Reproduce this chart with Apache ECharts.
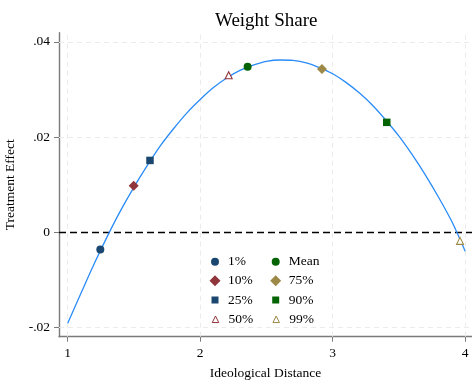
<!DOCTYPE html>
<html>
<head>
<meta charset="utf-8">
<script src="https://cdn.jsdelivr.net/npm/echarts@6/dist/echarts.min.js"></script>
<style>html,body{margin:0;padding:0;background:#fff}#c{width:472px;height:382px}</style>
</head>
<body>
<div id="c"></div>
<script>
// ---- data ----
const titleText = 'Weight Share';
const xName = 'Ideological Distance';
const yName = 'Treatment Effect';
const xTicks = [1, 2, 3, 4];
const xTickLabels = ['1', '2', '3', '4'];
const yTicks = [-0.02, 0, 0.02, 0.04];
const yTickLabels = ['-.02', '0', '.02', '.04'];
// fitted curve
const curveX = [1.0, 1.1, 1.2, 1.3, 1.4, 1.5, 1.6, 1.7, 1.8, 1.9, 2.0, 2.1, 2.2, 2.3, 2.4, 2.5,
                2.6, 2.7, 2.8, 2.9, 3.0, 3.1, 3.2, 3.3, 3.4, 3.5, 3.6, 3.7, 3.8, 3.9, 4.0];
const curveY = [-0.0191, -0.0128, -0.0066, -0.0008, 0.0046, 0.0095, 0.0140, 0.0182, 0.0218, 0.0251,
                0.0279, 0.0304, 0.0324, 0.0340, 0.0351, 0.0359, 0.0362, 0.0361, 0.0356, 0.0346,
                0.0333, 0.0315, 0.0293, 0.0267, 0.0236, 0.0202, 0.0163, 0.0120, 0.0073, 0.0022, -0.0040];
// percentile markers
const markerNames = ['1%', '10%', '25%', '50%', 'Mean', '75%', '90%', '99%'];
const markerX = [1.246, 1.498, 1.621, 2.215, 2.358, 2.919, 3.408, 3.961];
const markerY = [-0.0036, 0.0098, 0.0151, 0.0330, 0.0348, 0.0343, 0.0231, -0.0018];
const legendCol1 = ['1%', '10%', '25%', '50%'];
const legendCol2 = ['Mean', '75%', '90%', '99%'];

// ---- styles ----
const FONT = 'Liberation Serif';
const navy = '#1a476f', maroon = '#90353b', green = '#046404', khaki = '#9c8847';
const markerStyles = {
  '1%':   {symbol: 'circle',   size: 8,   legendSize: 8,  color: navy,   hollow: false},
  '10%':  {symbol: 'diamond',  size: 10,  legendSize: 11, color: maroon, hollow: false},
  '25%':  {symbol: 'rect',     size: 7.5, legendSize: 7,  color: navy,   hollow: false},
  '50%':  {symbol: 'triangle', size: 7,   legendSize: 6.5,color: maroon, hollow: true},
  'Mean': {symbol: 'circle',   size: 8,   legendSize: 8,  color: green,  hollow: false},
  '75%':  {symbol: 'diamond',  size: 10,  legendSize: 11, color: khaki,  hollow: false},
  '90%':  {symbol: 'rect',     size: 7.5, legendSize: 7,  color: green,  hollow: false},
  '99%':  {symbol: 'triangle', size: 7,   legendSize: 6.5,color: khaki,  hollow: true}
};

const chart = echarts.init(document.getElementById('c'), null, {renderer: 'canvas'});

const gridLineData = [];
xTicks.forEach(v => gridLineData.push({xAxis: v}));
yTicks.forEach(v => { if (v !== 0) gridLineData.push({yAxis: v}); });

const series = [];
series.push({
  name: 'curve',
  type: 'line',
  data: curveX.map((x, i) => [x, curveY[i]]),
  smooth: 0.3,
  showSymbol: false,
  symbol: 'none',
  lineStyle: {color: '#2a8cf7', width: 1.3},
  z: 3,
  silent: true,
  markLine: {
    silent: true, symbol: 'none', z: 1,
    label: {show: false},
    lineStyle: {color: '#ebebeb', type: [5, 4], width: 1},
    data: gridLineData
  }
});
series.push({
  name: 'zero',
  type: 'line',
  data: [],
  markLine: {
    silent: true, symbol: 'none', z: 2,
    label: {show: false},
    lineStyle: {color: '#000', type: [7, 4], width: 1.3},
    data: [{yAxis: 0}]
  }
});
markerNames.forEach((n, i) => {
  const s = markerStyles[n];
  series.push({
    name: n,
    type: 'scatter',
    symbol: s.symbol,
    symbolSize: s.size,
    z: 4,
    itemStyle: s.hollow
      ? {color: '#fff', borderColor: s.color, borderWidth: 1.1, opacity: 1}
      : {color: s.color, opacity: 1},
    data: [[markerX[i], markerY[i]]]
  });
});

// legend: one component per entry so each icon keeps its own size
const colCenters = [215, 275.7];
const rowCenters = [261.7, 280.7, 300, 319.3];
const textStartOffset = 13; // from icon centre to text start
const legends = [];
[legendCol1, legendCol2].forEach((col, c) => {
  col.forEach((n, r) => {
    const w = markerStyles[n].legendSize;
    legends.push({
      orient: 'horizontal',
      left: colCenters[c] - w / 2,
      top: rowCenters[r] - 7,
      padding: 0,
      itemWidth: w,
      itemHeight: w,
      selectedMode: false,
      data: [n],
      itemStyle: markerStyles[n].hollow ? {borderWidth: 1, opacity: 1} : {opacity: 1},
      textStyle: {fontFamily: FONT, fontSize: 13.5, color: '#000', lineHeight: 14,
        padding: [0, 0, 0, textStartOffset - w / 2 - 5]}
    });
  });
});

chart.setOption({
  animation: false,
  backgroundColor: '#fff',
  title: {
    text: titleText, left: 210, top: 7,
    textStyle: {fontFamily: FONT, fontSize: 19, fontWeight: 'normal', color: '#000'}
  },
  legend: legends,
  grid: {left: 59, right: 0, top: 32.7, bottom: 45.3, containLabel: false, outerBoundsMode: 'none'},
  xAxis: {
    type: 'value',
    min: 0.9343, max: 4.0513,
    name: xName, nameLocation: 'middle', nameGap: 30,
    nameTextStyle: {fontFamily: FONT, fontSize: 13.5, color: '#000'},
    axisLine: {show: true, onZero: false, lineStyle: {color: '#7a7a7a', width: 1.4}},
    axisTick: {show: true, length: 5, customValues: xTicks, lineStyle: {color: '#7a7a7a'}},
    axisLabel: {customValues: xTicks, margin: 10, fontFamily: FONT, fontSize: 13.5, color: '#000',
      formatter: v => xTickLabels[xTicks.indexOf(v)] ?? ''},
    splitLine: {show: false}
  },
  yAxis: {
    type: 'value',
    min: -0.02193, max: 0.04193,
    name: yName, nameLocation: 'middle', nameGap: 40,
    nameTextStyle: {fontFamily: FONT, fontSize: 13.5, color: '#000'},
    axisLine: {show: true, onZero: false, lineStyle: {color: '#7a7a7a', width: 1.4}},
    axisTick: {show: true, length: 5, customValues: yTicks, lineStyle: {color: '#7a7a7a'}},
    axisLabel: {customValues: yTicks, margin: 9, fontFamily: FONT, fontSize: 13.5, color: '#000',
      formatter: v => { const k = yTicks.findIndex(t => Math.abs(t - v) < 1e-9); return k >= 0 ? yTickLabels[k] : ''; }},
    splitLine: {show: false}
  },
  series: series
});
</script>
</body>
</html>
